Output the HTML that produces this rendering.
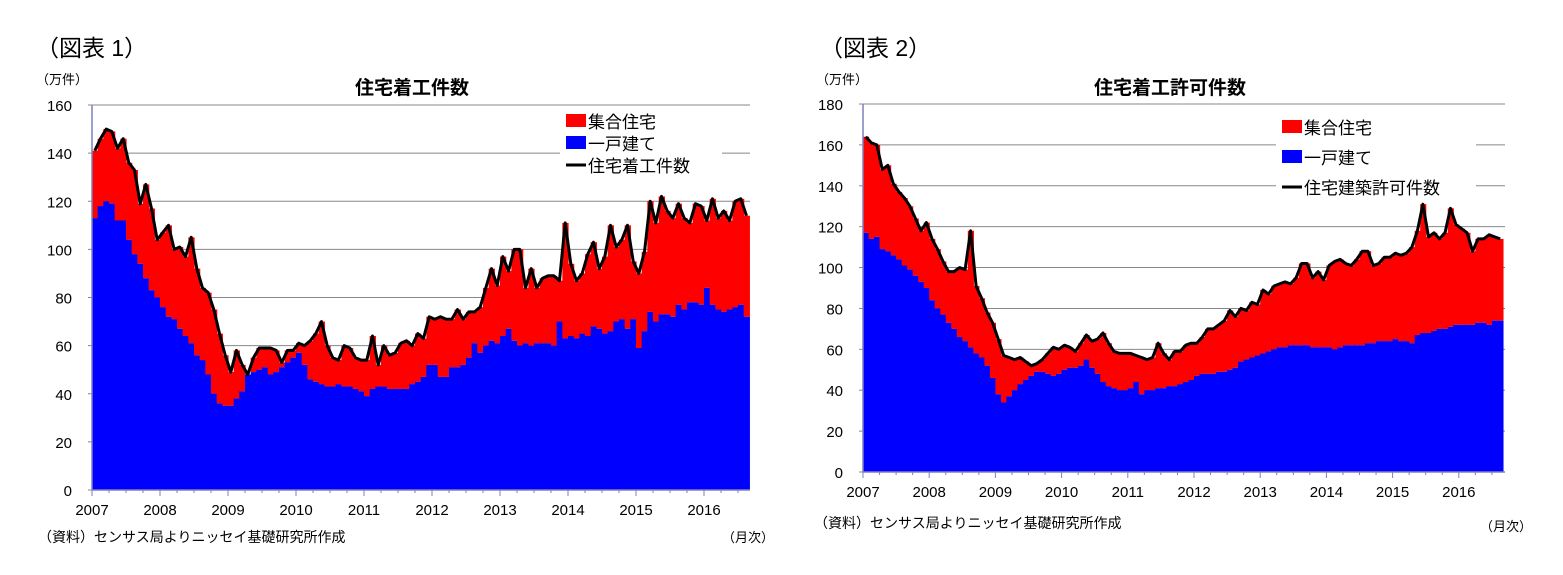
<!DOCTYPE html>
<html><head><meta charset="utf-8">
<style>
body{margin:0;background:#fff;font-family:"Liberation Sans","Noto Sans CJK JP",sans-serif;}
svg text{font-family:"Liberation Sans","Noto Sans CJK JP",sans-serif;}
</style></head>
<body>
<svg id="c" width="1563" height="570" xmlns="http://www.w3.org/2000/svg">
<text x="36" y="56" font-size="23" font-family="Liberation Serif,Noto Serif CJK SC,serif">（図表 1）</text>
<text x="36" y="84" font-size="13">（万件）</text>
<text x="412" y="94" font-size="19" font-weight="bold" text-anchor="middle">住宅着工件数</text>
<text x="38" y="542" font-size="14">（資料）センサス局よりニッセイ基礎研究所作成</text>
<text x="722" y="542" font-size="13">（月次）</text>
<text x="820" y="56" font-size="23" font-family="Liberation Serif,Noto Serif CJK SC,serif">（図表 2）</text>
<text x="816" y="84" font-size="13">（万件）</text>
<text x="1170" y="94" font-size="19" font-weight="bold" text-anchor="middle">住宅着工許可件数</text>
<text x="814" y="528" font-size="14">（資料）センサス局よりニッセイ基礎研究所作成</text>
<text x="1480" y="531" font-size="13">（月次）</text>
</svg>
<script>
const years = ["2007","2008","2009","2010","2011","2012","2013","2014","2015","2016"];
const startsTotal = [141,146,150,149,142,146,136,133,119,127,117,104,
107,110,100,101,97,105,92,84,82,75,65,56,
49,58,52,48,55,59,59,59,58,53,58,58,
61,60,62,65,70,60,55,54,60,59,55,54,
54,64,52,60,56,57,61,62,60,65,63,72,
71,72,71,71,75,71,74,74,76,84,92,85,
97,91,100,100,84,92,84,88,89,89,87,111,
94,87,90,98,103,92,97,110,101,104,110,95,
90,99,120,111,122,116,113,119,113,111,119,118,
112,121,113,116,112,120,121,114];
const startsSingle = [113,118,120,119,112,112,104,98,94,88,83,80,
76,72,71,67,64,61,56,54,48,40,36,35,
35,38,41,48,49,50,51,48,49,51,53,55,
57,52,46,45,44,43,43,44,43,43,42,41,
39,42,43,43,42,42,42,42,44,45,47,52,
52,47,47,51,51,52,55,61,57,60,62,61,
64,67,62,60,61,60,61,61,61,60,70,63,
64,63,65,64,68,67,65,66,70,71,67,71,
59,66,74,70,73,73,72,77,75,78,78,77,
84,77,75,74,75,76,77,72];
const permitsTotal = [164,161,160,148,150,141,137,134,130,124,118,122,
114,109,103,98,98,100,99,118,91,85,78,73,
65,57,56,55,56,54,52,53,55,58,61,60,
62,61,59,63,67,64,65,68,63,59,58,58,
58,57,56,55,56,63,58,55,59,59,62,63,
63,66,70,70,72,74,79,76,80,79,83,82,
89,87,91,92,93,92,95,102,102,95,98,94,
101,103,104,102,101,104,108,108,101,102,105,105,
107,106,107,110,118,131,115,117,114,117,129,121,
119,117,108,114,114,116,115,114];
const permitsSingle = [117,114,115,109,108,106,104,101,99,96,93,90,
84,80,77,73,70,66,64,61,58,56,52,46,
38,34,37,40,43,45,47,49,49,48,47,48,
50,51,51,52,55,51,48,44,42,41,40,40,
41,44,38,40,40,41,41,42,42,43,44,45,
47,48,48,48,49,49,50,51,54,55,56,57,
58,59,60,61,61,62,62,62,62,61,61,61,
61,60,61,62,62,62,62,63,63,64,64,64,
65,64,64,63,67,68,68,69,70,70,71,72,
72,72,72,73,73,72,74,74];
const ticks1 = [0,20,40,60,80,100,120,140,160];
const ticks2 = [0,20,40,60,80,100,120,140,160,180];
const legend1 = ["集合住宅","一戸建て","住宅着工件数"];
const legend2 = ["集合住宅","一戸建て","住宅建築許可件数"];

const NS="http://www.w3.org/2000/svg";
const svg=document.getElementById('c');
function mk(tag,attrs){const e=document.createElementNS(NS,tag);for(const k in attrs)e.setAttribute(k,attrs[k]);svg.appendChild(e);return e;}

function draw(p,total,single,ticks,legend,legendRows){
  const yMax=ticks[ticks.length-1];
  const n=total.length;
  const mw=p.yearW/12;
  const X=i=>p.x0+i*mw;
  const Y=v=>p.yb-(v/yMax)*(p.yb-p.yt);
  // gridlines
  ticks.forEach(t=>{
    if(t>0){const g=mk('line',{x1:p.x0,x2:p.x1,y1:Y(t),y2:Y(t),stroke:'#888','stroke-width':1});
    
    }
    const tl=mk('text',{x:p.x0-20,y:Y(t)+6,'font-size':15,'text-anchor':'end'});
    tl.textContent=t;
    
    
    const tk=mk('line',{x1:p.x0-4,x2:p.x0,y1:Y(t),y2:Y(t),stroke:'#888'});
    
    
  });
  // bars
  for(let i=0;i<n;i++){
    const r=mk('rect',{x:X(i),y:Y(total[i]),width:mw+0.6,height:Y(single[i])-Y(total[i]),fill:'#ff0000'});
    
    
    const b=mk('rect',{x:X(i),y:Y(single[i]),width:mw+0.6,height:p.yb-Y(single[i]),fill:'#0000ff'});
    
    
  }
  const pts=total.map((v,i)=>(X(i)+mw/2).toFixed(1)+','+Y(v).toFixed(1)).join(' ');
  const pl=mk('polyline',{points:pts,fill:'none',stroke:'#000','stroke-width':3,'stroke-linejoin':'round'});
  
  
  // axes
  const ya=mk('line',{x1:p.x0,x2:p.x0,y1:p.yt,y2:p.yb,stroke:'#7f7fbf','stroke-width':1.5});
  
  
  const xa=mk('line',{x1:p.x0,x2:p.x1,y1:p.yb,y2:p.yb,stroke:'#7f7fbf','stroke-width':1.5});
  
  
  for(let i=0;i<=n;i+=3){
    const big=i%12===0;
    const t=mk('line',{x1:X(i),x2:X(i),y1:p.yb,y2:p.yb+(big?6:3),stroke:'#7f7fbf'});
    
    
  }
  years.forEach((yr,k)=>{
    const t=mk('text',{x:X(k*12),y:p.yb+25,'font-size':15,'text-anchor':'middle'});
    t.textContent=yr;
    
    
  });
  // legend
  const lb=mk('rect',{x:p.lx-6,y:p.ly-14,width:p.lw,height:p.lh,fill:'#fff'});
  
  
  const cols=['#ff0000','#0000ff'];
  legend.forEach((lab,k)=>{
    const yy=p.ly+k*legendRows;
    if(k<2){const s=mk('rect',{x:p.lx,y:yy-7,width:20,height:13,fill:cols[k]});
      
      }
    else{const s=mk('line',{x1:p.lx,x2:p.lx+20,y1:yy,y2:yy,stroke:'#000','stroke-width':3});
      
      }
    const t=mk('text',{x:p.lx+22,y:yy+7,'font-size':17});
    t.textContent=lab;
    
    
  });
}
draw({id:'chart1',x0:92,x1:750,yt:105,yb:490,yearW:68,lx:566,ly:121,lw:162,lh:62},startsTotal,startsSingle,ticks1,legend1,22);
draw({id:'chart2',x0:863,x1:1505,yt:104,yb:472,yearW:66.2,lx:1282,ly:127,lw:200,lh:74},permitsTotal,permitsSingle,ticks2,legend2,30);
</script>
</body></html>
